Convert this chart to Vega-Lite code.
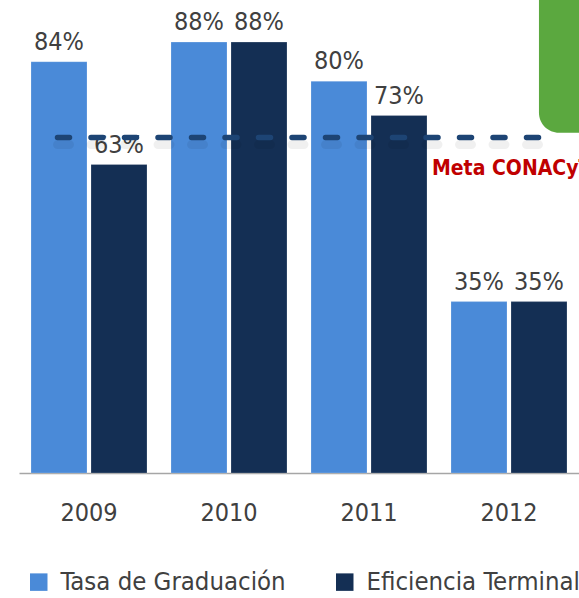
{
  "$schema": "https://vega.github.io/schema/vega-lite/v6.json",
  "width": 560,
  "height": 473,
  "autosize": {"type": "none"},
  "padding": {"left": 19, "top": 0, "right": 0, "bottom": 125},
  "background": "white",
  "config": {
    "view": {"stroke": null},
    "font": "DejaVu Sans Condensed, Roboto, sans-serif"
  },
  "datasets": {
    "bars": [
      {"year": "2009", "serie": "Tasa de Graduación", "valor": 0.84},
      {"year": "2009", "serie": "Eficiencia Terminal", "valor": 0.63},
      {"year": "2010", "serie": "Tasa de Graduación", "valor": 0.88},
      {"year": "2010", "serie": "Eficiencia Terminal", "valor": 0.88},
      {"year": "2011", "serie": "Tasa de Graduación", "valor": 0.80},
      {"year": "2011", "serie": "Eficiencia Terminal", "valor": 0.73},
      {"year": "2012", "serie": "Tasa de Graduación", "valor": 0.35},
      {"year": "2012", "serie": "Eficiencia Terminal", "valor": 0.35}
    ],
    "meta": [
      {"meta": 0.685, "label": "Meta CONACyT"}
    ],
    "deco": [
      {"y0": 0.695, "y1": 0.966}
    ]
  },
  "layer": [
    {
      "data": {"name": "bars"},
      "mark": {"type": "bar", "stroke": "white", "strokeOpacity": 0.4, "strokeWidth": 0.5},
      "encoding": {
        "x": {
          "field": "year", "type": "nominal",
          "scale": {"paddingInner": 0, "paddingOuter": 0},
          "axis": {
            "title": null, "labelAngle": 0, "ticks": false, "tickSize": 0,
            "domainColor": "#a6a6a6", "domainWidth": 1.5,
            "labelFont": "DejaVu Sans Condensed, Roboto, sans-serif", "labelFontSize": 25,
            "labelColor": "#404040", "labelBaseline": "alphabetic",
            "labelPadding": 47, "grid": false
          }
        },
        "xOffset": {
          "field": "serie", "type": "nominal",
          "sort": ["Tasa de Graduación", "Eficiencia Terminal"],
          "scale": {"paddingInner": 0.0667, "paddingOuter": 0.2}
        },
        "y": {
          "field": "valor", "type": "quantitative",
          "scale": {"domain": [0, 0.966], "nice": false, "zero": true},
          "axis": null
        },
        "color": {
          "field": "serie", "type": "nominal",
          "sort": ["Tasa de Graduación", "Eficiencia Terminal"],
          "scale": {"domain": ["Tasa de Graduación", "Eficiencia Terminal"], "range": ["#4a8ad8", "#142f54"]},
          "legend": {
            "title": null, "orient": "none", "legendX": 7, "legendY": 569,
            "direction": "horizontal", "padding": 0,
            "symbolType": "square", "symbolSize": 306, "symbolStrokeWidth": 0,
            "labelFont": "DejaVu Sans Condensed, Roboto, sans-serif", "labelFontSize": 25.5,
            "labelColor": "#404040", "labelOffset": 9, "labelLimit": 400,
            "columnPadding": 46
          }
        }
      }
    },
    {
      "data": {"name": "bars"},
      "mark": {"type": "text", "baseline": "alphabetic", "dy": -12, "fontSize": 25, "font": "DejaVu Sans Condensed, Roboto, sans-serif", "color": "#404040"},
      "encoding": {
        "x": {"field": "year", "type": "nominal"},
        "xOffset": {"field": "serie", "type": "nominal", "sort": ["Tasa de Graduación", "Eficiencia Terminal"]},
        "y": {"field": "valor", "type": "quantitative"},
        "text": {"field": "valor", "type": "quantitative", "format": ".0%"}
      }
    },
    {
      "data": {"name": "meta"},
      "mark": {"type": "rule", "color": "#000000", "opacity": 0.06, "strokeWidth": 9, "strokeDash": [12, 21.5], "strokeCap": "round", "yOffset": 7},
      "encoding": {
        "x": {"datum": "2009", "bandPosition": 0.275},
        "x2": {"datum": "2012", "bandPosition": 0.72},
        "y": {"field": "meta", "type": "quantitative"}
      }
    },
    {
      "data": {"name": "meta"},
      "mark": {"type": "rule", "color": "#1d4474", "strokeWidth": 5.5, "strokeDash": [12, 21.5], "strokeCap": "round"},
      "encoding": {
        "x": {"datum": "2009", "bandPosition": 0.275},
        "x2": {"datum": "2012", "bandPosition": 0.72},
        "y": {"field": "meta", "type": "quantitative"}
      }
    },
    {
      "data": {"name": "meta"},
      "mark": {"type": "text", "align": "left", "baseline": "alphabetic", "dx": -7, "dy": 37, "fontSize": 21, "fontWeight": "bold", "font": "DejaVu Sans Condensed, Roboto, sans-serif", "color": "#c00000"},
      "encoding": {
        "x": {"datum": "2012", "bandPosition": 0},
        "y": {"field": "meta", "type": "quantitative"},
        "text": {"field": "label"}
      }
    },
    {
      "data": {"name": "deco"},
      "mark": {"type": "rect", "color": "#5ba83f", "cornerRadiusBottomLeft": 40},
      "encoding": {
        "x": {"datum": "2012", "bandPosition": 0.714},
        "x2": {"datum": "2012", "bandPosition": 1},
        "y": {"field": "y0", "type": "quantitative"},
        "y2": {"field": "y1"}
      }
    }
  ]
}
